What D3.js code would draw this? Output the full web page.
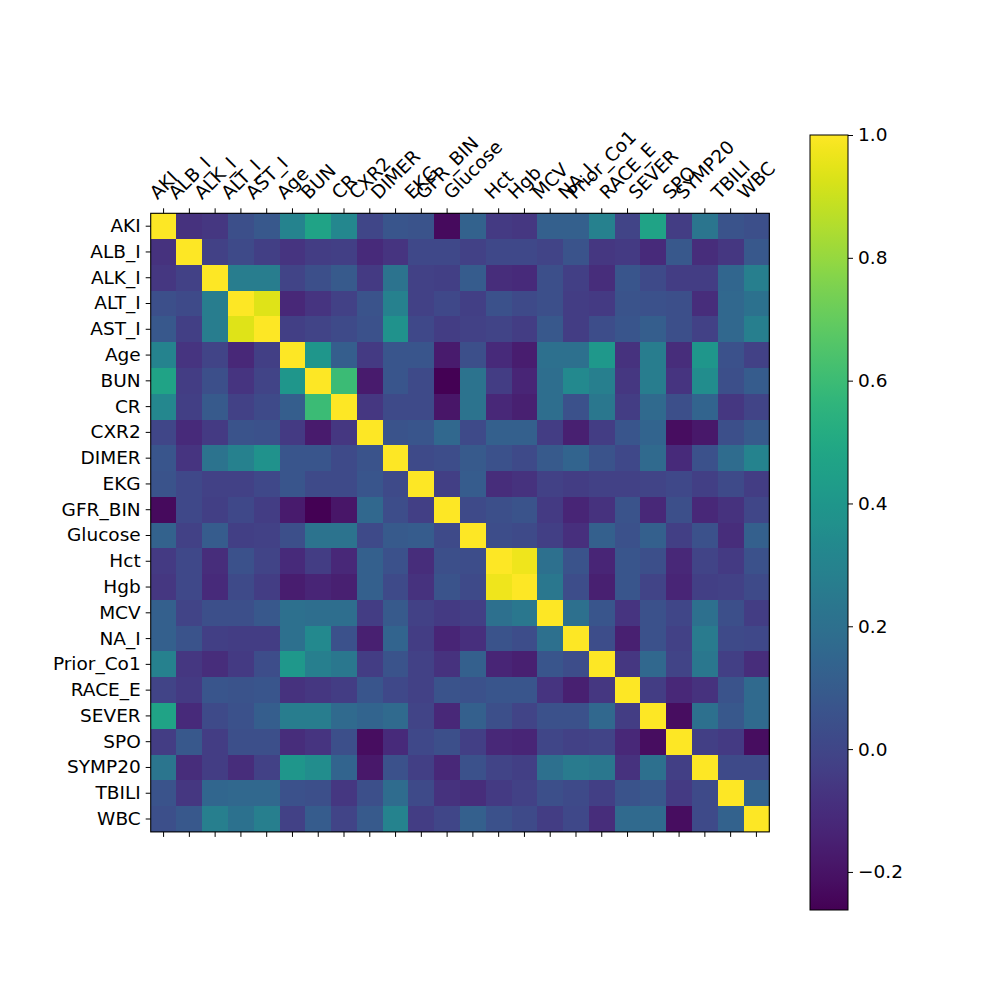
<!DOCTYPE html>
<html><head><meta charset="utf-8">
<script src="https://d3js.org/d3.v7.min.js"></script>
<style>body{margin:0;background:#fff}svg{display:block}text{font-family:"DejaVu Sans",sans-serif;fill:#000}</style>
</head><body><svg id="c" width="1000" height="1000"></svg>
<script>
const labels = ["AKI","ALB_I","ALK_I","ALT_I","AST_I","Age","BUN","CR","CXR2","DIMER","EKG","GFR_BIN","Glucose","Hct","Hgb","MCV","NA_I","Prior_Co1","RACE_E","SEVER","SPO","SYMP20","TBILI","WBC"];
// upper triangle rows: row i holds correlations with columns i..23
const upper = [
[1,-0.08,-0.06,0.04,0.08,0.30,0.47,0.32,0.0,0.07,0.06,-0.23,0.13,-0.05,-0.06,0.12,0.12,0.29,-0.01,0.47,-0.04,0.23,0.06,0.04],
[1,-0.02,0.02,-0.03,-0.07,-0.04,-0.03,-0.11,-0.07,0.01,0.01,-0.02,0.01,0.01,-0.01,0.06,-0.06,-0.05,-0.11,0.08,-0.1,-0.06,0.08],
[1,0.27,0.27,-0.01,0.04,0.09,-0.05,0.22,-0.02,-0.03,0.1,-0.1,-0.11,0.04,-0.03,-0.1,0.07,0.02,-0.04,-0.04,0.15,0.28],
[1,0.94,-0.12,-0.07,-0.02,0.06,0.29,-0.02,0.01,-0.03,0.05,0.02,0.04,-0.04,-0.05,0.06,0.05,0.04,-0.1,0.16,0.21],
[1,-0.03,-0.01,0.02,0.05,0.38,0.01,-0.04,-0.02,-0.01,-0.04,0.08,-0.04,0.03,0.07,0.11,0.04,-0.02,0.16,0.28],
[1,0.40,0.11,-0.05,0.07,0.07,-0.17,0.04,-0.11,-0.16,0.2,0.2,0.41,-0.08,0.27,-0.1,0.4,0.05,-0.02],
[1,0.60,-0.17,0.07,0.02,-0.262,0.22,-0.04,-0.13,0.19,0.33,0.28,-0.06,0.27,-0.07,0.35,0.04,0.1],
[1,-0.06,0.02,0.02,-0.19,0.22,-0.12,-0.15,0.19,0.05,0.24,-0.04,0.17,0.04,0.14,-0.06,-0.01],
[1,0.06,0.07,0.16,0.02,0.12,0.12,-0.04,-0.15,-0.04,0.07,0.14,-0.22,-0.18,0.04,0.09],
[1,0.02,0.03,0.09,0.05,0.02,0.09,0.14,0.06,0.01,0.17,-0.11,0.05,0.18,0.3],
[1,-0.03,0.1,-0.1,-0.08,-0.02,-0.04,-0.02,-0.02,-0.01,0.01,-0.03,0.02,-0.04],
[1,0.02,0.04,0.06,-0.05,-0.13,-0.08,0.06,-0.12,0.04,-0.12,-0.08,0.0],
[1,0.03,0.02,-0.03,-0.09,0.12,0.05,0.12,-0.03,0.05,-0.1,0.12],
[1,0.97,0.2,0.06,-0.13,0.07,0.04,-0.12,-0.01,-0.05,0.05],
[1,0.24,0.03,-0.15,0.07,-0.01,-0.13,-0.03,-0.02,0.02],
[1,0.2,0.07,-0.07,0.05,0.0,0.2,0.04,-0.04],
[1,0.03,-0.15,0.05,-0.02,0.26,0.02,0.01],
[1,-0.06,0.16,-0.01,0.24,-0.03,-0.1],
[1,-0.04,-0.12,-0.08,0.06,0.17],
[1,-0.22,0.2,0.08,0.17],
[1,-0.03,-0.05,-0.22],
[1,0.02,0.02],
[1,0.13],
[1]
];
const cbTicks = [-0.2,0.0,0.2,0.4,0.6,0.8,1.0];

const n = labels.length;
const cells = [];
for (let i=0;i<n;i++) for (let j=i;j<n;j++) {
  const v = upper[i][j-i];
  cells.push({r:i,c:j,v});
  if (i!==j) cells.push({r:j,c:i,v});
}
const ext = d3.extent(cells, d=>d.v);
const color = d3.scaleSequential(d3.interpolateViridis).domain(ext);

const svg = d3.select("#c");
const L=150.7, T=213.3, S=618.6;
const x = d3.scaleBand().domain(d3.range(n)).range([L,L+S]);
const y = d3.scaleBand().domain(d3.range(n)).range([T,T+S]);

svg.append("g").selectAll("rect").data(cells).join("rect")
  .attr("x",d=>x(d.c)).attr("y",d=>y(d.r))
  .attr("width",x.bandwidth()+0.4).attr("height",y.bandwidth()+0.4)
  .attr("fill",d=>color(d.v)).attr("shape-rendering","crispEdges");

svg.append("rect").attr("x",L).attr("y",T).attr("width",S).attr("height",S)
  .attr("fill","none").attr("stroke","#000").attr("stroke-width",1.1);

const fs = 18.5;
// left axis
const ga = svg.append("g").attr("transform",`translate(${L},0)`)
  .call(d3.axisLeft(y).tickSize(5).tickPadding(5).tickFormat(i=>labels[i]));
ga.select(".domain").remove();
ga.selectAll("text").style("font-size",fs+"px").style("font-family","DejaVu Sans");
ga.selectAll("line").attr("stroke","#000").attr("stroke-width",1);
// bottom ticks (no labels)
const gb = svg.append("g").attr("transform",`translate(0,${T+S})`)
  .call(d3.axisBottom(x).tickSize(5).tickFormat(""));
gb.select(".domain").remove();
// top ticks
const gt = svg.append("g").attr("transform",`translate(0,${T})`)
  .call(d3.axisTop(x).tickSize(5).tickFormat(""));
gt.select(".domain").remove();
// rotated top labels (centered, bbox bottom at pad)
const baseY = T - 5 - 4.9;
const tl = svg.append("g").selectAll("text").data(d3.range(n)).join("text")
  .style("font-size",fs+"px").attr("text-anchor","middle").attr("dominant-baseline","central")
  .text(i=>labels[i]);
tl.each(function(i){
  const w = this.getComputedTextLength();
  const h = fs*1.17;
  const H = (w+h)*Math.SQRT1_2;
  const cx = x(i)+x.bandwidth()/2, cy = baseY - H/2;
  d3.select(this).attr("transform",`translate(${cx},${cy}) rotate(-45)`);
});

// colorbar
const cbX=810, cbW=38, cbT=135, cbB=910;
const cy2 = d3.scaleLinear().domain(ext).range([cbB,cbT]);
const defs = svg.append("defs");
const grad = defs.append("linearGradient").attr("id","g").attr("x1",0).attr("y1",1).attr("x2",0).attr("y2",0);
d3.range(0,1.0001,0.02).forEach(t=>grad.append("stop").attr("offset",t).attr("stop-color",d3.interpolateViridis(t)));
svg.append("rect").attr("x",cbX).attr("y",cbT).attr("width",cbW).attr("height",cbB-cbT)
  .attr("fill","url(#g)").attr("stroke","#000").attr("stroke-width",1);
const gc = svg.append("g").attr("transform",`translate(${cbX+cbW},0)`)
  .call(d3.axisRight(cy2).tickValues(cbTicks).tickSize(5).tickPadding(5)
    .tickFormat(v=>d3.format(".1f")(v).replace("-","\u2212")));
gc.select(".domain").remove();
gc.selectAll("text").style("font-size",fs+"px").style("font-family","DejaVu Sans");
</script></body></html>
